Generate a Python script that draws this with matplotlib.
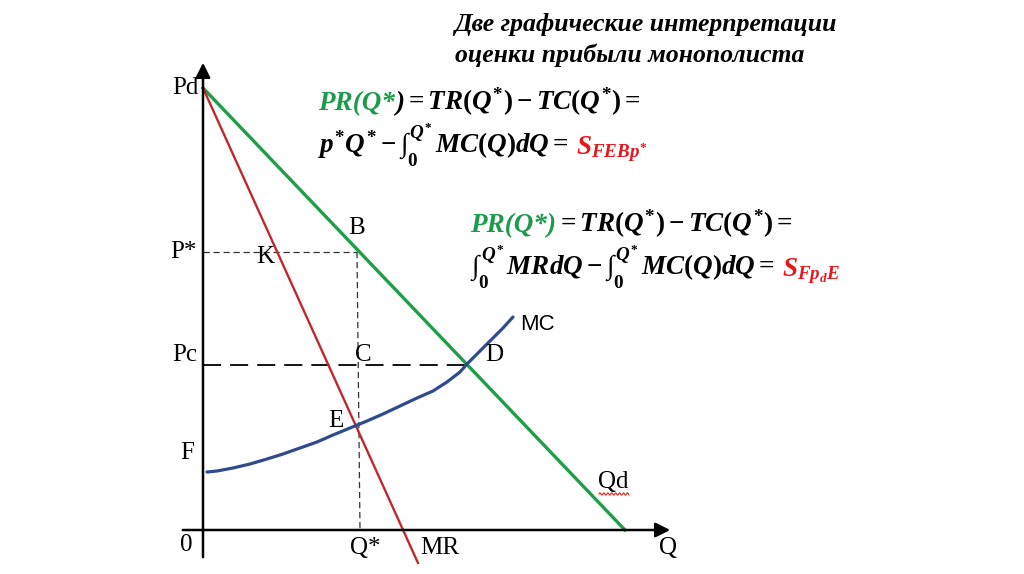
import numpy as np
import matplotlib
matplotlib.use('Agg')
import matplotlib.pyplot as plt

plt.rcParams['mathtext.fontset'] = 'custom'
plt.rcParams['mathtext.rm'] = 'Liberation Serif:bold'
plt.rcParams['mathtext.it'] = 'Liberation Serif:bold:italic'
plt.rcParams['mathtext.bf'] = 'Liberation Serif:bold'
plt.rcParams['mathtext.fallback'] = 'stix'

# values (Q to the right, P up, origin at the axes corner)
demand_q = [0, 422]
demand_p = [442, 0]
mr_q = [0, 215]
mr_p = [442, -33]
mc_q = [4, 14, 30, 47, 64, 80, 97, 114, 130, 147, 164, 180, 197, 214, 230,
        244, 257, 264, 274, 287, 300, 310]
mc_p = [58, 59, 62, 66, 71, 76, 82, 88, 95, 102, 109, 116, 124, 132, 139,
        148, 158, 166, 176, 189, 202, 213]
q_star, p_star = 154, 278
q_c, p_c = 264, 165

GREEN = '#1f9e48'
RED = '#c0282d'
BLUE = '#2f4b8c'
TXT_GREEN = '#1e9a4c'
TXT_RED = '#e8151b'

fig = plt.figure(figsize=(10.24, 5.74), dpi=100)
ax = fig.add_axes([0, 0, 1, 1])
ax.set_xlim(-203, 821)
ax.set_ylim(-44, 530)
ax.axis('off')

# axes with arrows
ax.annotate('', xy=(470, 0), xytext=(-23, 0),
            arrowprops=dict(arrowstyle='-|>', color='black', lw=1.8, mutation_scale=22))
ax.annotate('', xy=(0, 470), xytext=(0, -30),
            arrowprops=dict(arrowstyle='-|>', color='black', lw=1.8, mutation_scale=22))

# guide lines
ax.plot([0, q_star], [p_star, p_star], color='#333333', lw=0.9, ls=(0, (5, 3)))
ax.plot([q_star, q_star + 3], [p_star, 0], color='#333333', lw=0.9, ls=(0, (5, 3)))
ax.plot([0, q_c], [p_c, p_c], color='black', lw=1.3, ls=(0, (10, 5)))

# curves
ax.plot(demand_q, demand_p, color=GREEN, lw=2.4)
ax.plot(mr_q, mr_p, color=RED, lw=1.7)
ax.plot(mc_q, mc_p, color=BLUE, lw=2.3, solid_capstyle='round', solid_joinstyle='round')

serif = dict(family='Liberation Serif', fontsize=18, color='black')
labels = [('Pd', -18, 442), ('P*', -20, 278), ('K', 62, 273), ('B', 154, 302),
          ('Pc', -18, 175), ('C', 160, 175), ('D', 291, 175), ('E', 133, 109),
          ('F', -16, 77), ('0', -17, -15), ('Q*', 162, -18), ('MR', 237, -18),
          ('Q', 465, -18), ('Qd', 410, 48)]
for s, x, y in labels:
    ax.text(x, y, s, ha='center', va='center', **serif)
ax.text(334, 205, 'MC', family='Liberation Sans', fontsize=16, ha='center', va='center')

# red wavy underline under Qd
wq = np.linspace(396, 426, 40)
ax.plot(wq, 36 + 1.2 * np.sin((wq - 396) * 1.6), color='#e02020', lw=0.8)

# title
ax.text(443, 506, 'Две графические интерпретации', family='Liberation Serif',
        fontsize=18.5, weight='bold', style='italic', ha='center', va='center')
ax.text(427, 475, 'оценки прибыли монополиста', family='Liberation Serif',
        fontsize=18.5, weight='bold', style='italic', ha='center', va='center')

fig.canvas.draw()
renderer = fig.canvas.get_renderer()


def segments(x, y, parts, size=19.5):
    # place coloured pieces one after another on one baseline
    for s, c, plain in parts:
        if plain:
            t = ax.text(x, y, s, color=c, fontsize=size, family='Liberation Serif',
                        weight='bold', style='italic', va='baseline')
        else:
            t = ax.text(x, y, s, color=c, fontsize=size, va='baseline')
        bb = t.get_window_extent(renderer)
        x = ax.transData.inverted().transform((bb.x1, bb.y0))[0]


segments(115, 420, [('PR(Q*', TXT_GREEN, True), (')', 'black', True),
                    (r'$=TR(Q^{*})-TC(Q^{*})=$', 'black', False)])
segments(115, 376, [(r'$p^{*}Q^{*}-\int_{0}^{Q^{*}}\,MC(Q)dQ=$', 'black', False),
                    (r'$\ S_{FEBp^{*}}$', TXT_RED, False)])
segments(267, 298, [('PR(Q*)', TXT_GREEN, True),
                    (r'$=TR(Q^{*})-TC(Q^{*})=$', 'black', False)])
segments(267, 254, [(r'$\int_{0}^{Q^{*}}\,MRdQ-\int_{0}^{Q^{*}}\,MC(Q)dQ=$', 'black', False),
                    (r'$\ S_{Fp_{d}E}$', TXT_RED, False)])

fig.savefig('out.png', dpi=100)
